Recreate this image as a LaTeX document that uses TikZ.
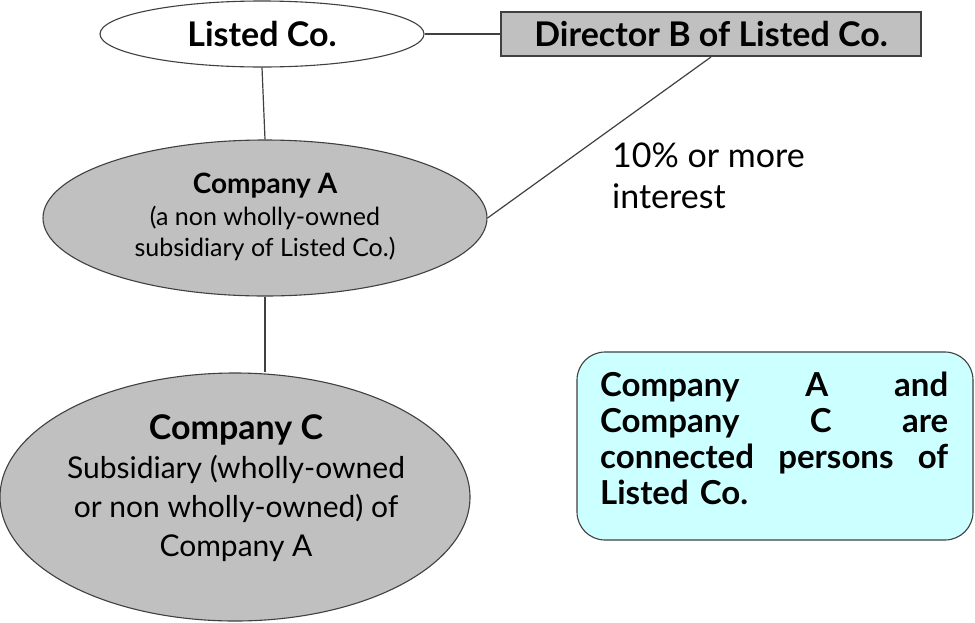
\documentclass[tikz,border=0pt]{standalone}
\usepackage{fontspec}
\setmainfont{Lato}
\usetikzlibrary{shapes.geometric}
\definecolor{grayfill}{HTML}{C0C0C0}
\definecolor{cyanfill}{HTML}{CCFFFF}
\definecolor{edge}{HTML}{404040}
\newcommand{\fsA}{\fontsize{28}{31}\selectfont\bfseries}
\newcommand{\fsC}{\fontsize{34}{39}\selectfont\bfseries}
\newcommand{\jline}[1]{\leavevmode\hbox to 348pt{#1}}
\begin{document}
\begin{tikzpicture}[x=1pt,y=-1pt,
  oval/.style={ellipse, draw=edge, line width=1.1pt, inner sep=0pt, align=center},
  conn/.style={draw=edge, line width=1.2pt}]
\useasboundingbox (0,0) rectangle (975,622);
\fill[white] (0,0) rectangle (975,622);
% nodes
\node[oval, fill=white, minimum width=324pt, minimum height=66pt,
      font=\fontsize{34}{38}\selectfont\bfseries] (listed) at (262,34) {Listed Co.};
\node[draw=edge, line width=1.1pt, fill=grayfill, minimum width=420pt, minimum height=44pt, inner sep=0pt,
      font=\fontsize{34}{38}\selectfont\bfseries] (dirb) at (711,34) {Director B of Listed Co.};
\node[oval, fill=grayfill, minimum width=444pt, minimum height=156pt] (compa) at (265,218) {};
\node[align=center, inner sep=0pt, font=\fontsize{25}{31}\selectfont] (compatext) at (265,217)
  {\fsA Company A\\[1pt]
   (a non wholly-owned\\ subsidiary of Listed Co.)};
\node[oval, fill=grayfill, minimum width=470pt, minimum height=248pt] (compc) at (235,497) {};
\node[align=center, inner sep=0pt, font=\fontsize{30}{39}\selectfont] (compctext) at (236,488)
  {\fsC Company C\\
   Subsidiary (wholly-owned\\ or non wholly-owned) of\\ Company A};
\node[anchor=north west, align=left, inner sep=0pt,
      font=\fontsize{34}{41}\selectfont] (interest) at (612,143)
  {10\% or more\\ interest};
\node[draw=edge, line width=1.1pt, fill=cyanfill, rounded corners=28pt,
      minimum width=396pt, minimum height=188pt, inner sep=0pt] (note) at (775,446) {};
\node[anchor=north west, inner sep=0pt, text width=348pt, align=left,
      font=\fontsize{33}{36}\selectfont\bfseries] (notetext) at (600,372)
  {\jline{Company\hfill A\hfill and}\\
   \jline{Company\hfill C\hfill are}\\
   \jline{connected\hfill persons\hfill of}\\
   Listed Co.};
% connectors
\coordinate (dirfoot) at (711,57);
\path[conn] (listed.east) -- (dirb.west);
\path[conn] (listed.south) -- (compa.north);
\path[conn] (compa.south) -- (compc.north -| compa.south);
\path[conn] (dirfoot) -- (compa.east);
\end{tikzpicture}
\end{document}
